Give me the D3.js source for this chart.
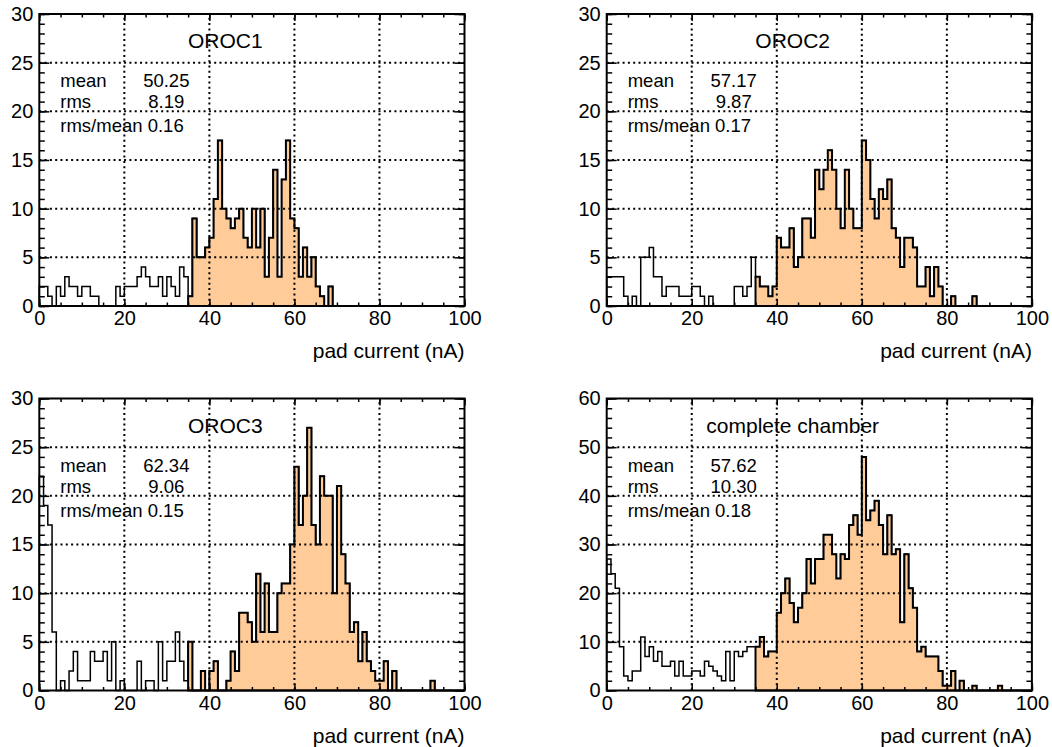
<!DOCTYPE html>
<html>
<head>
<meta charset="utf-8">
<script src="https://cdn.jsdelivr.net/npm/d3@7"></script>
<style>
  html, body { margin: 0; padding: 0; background: #fff; }
  svg { display: block; font-family: "Liberation Sans", Arial, Helvetica, sans-serif; }
</style>
</head>
<body>
<svg id="chart" width="1052" height="747"></svg>
<script>
// Pad-current histograms: 100 bins of 1 nA from 0 to 100 nA
const xDomain = [0, 100];
const binWidth = 1;
const highlightFrom = 35;           // bins at or above this current are filled
const xTicks = [0, 20, 40, 60, 80, 100];

const oroc1 = [
  2, 2, 1, 0, 2, 1, 3, 2, 2, 1,
  2, 2, 1, 1, 0, 0, 0, 0, 2, 1,
  2, 2, 2, 3, 4, 3, 2, 2, 3, 1,
  3, 2, 1, 4, 3, 1, 9, 5, 5, 6,
  7, 11, 17, 10, 9, 8, 9, 10, 7, 6,
  10, 6, 10, 3, 7, 14, 3, 13, 17, 9,
  8, 3, 6, 3, 5, 2, 1, 0, 2, 0,
  0, 0, 0, 0, 0, 0, 0, 0, 0, 0,
  0, 0, 0, 0, 0, 0, 0, 0, 0, 0,
  0, 0, 0, 0, 0, 0, 0, 0, 0, 0
];
const oroc2 = [
  3, 3, 3, 3, 1, 0, 1, 0, 5, 5,
  6, 3, 3, 1, 2, 2, 2, 1, 1, 1,
  2, 2, 1, 0, 1, 0, 0, 0, 0, 0,
  2, 2, 1, 2, 5, 3, 2, 2, 1, 2,
  7, 6, 6, 8, 4, 5, 9, 9, 7, 14,
  12, 14, 16, 14, 10, 8, 14, 10, 8, 8,
  17, 15, 11, 9, 12, 11, 13, 8, 7, 4,
  7, 7, 6, 2, 2, 4, 1, 4, 2, 0,
  0, 1, 0, 0, 0, 0, 1, 0, 0, 0,
  0, 0, 0, 0, 0, 0, 0, 0, 0, 0
];
const oroc3 = [
  22, 19, 17, 6, 0, 1, 0, 2, 4, 1,
  1, 1, 4, 3, 3, 4, 1, 5, 0, 1,
  0, 0, 0, 3, 0, 1, 1, 0, 5, 1,
  3, 3, 6, 3, 1, 5, 0, 0, 2, 0,
  2, 3, 0, 0, 1, 4, 2, 8, 8, 7,
  5, 12, 6, 11, 6, 6, 10, 11, 11, 15,
  23, 17, 20, 27, 17, 15, 22, 20, 20, 10,
  21, 14, 11, 6, 7, 3, 6, 3, 2, 1,
  1, 3, 0, 2, 0, 0, 0, 0, 0, 0,
  0, 0, 1, 0, 0, 0, 0, 0, 0, 0
];
const chamber = [
  27, 24, 21, 9, 3, 2, 4, 4, 11, 7,
  9, 6, 8, 5, 5, 6, 3, 6, 3, 3,
  4, 4, 3, 6, 5, 4, 3, 2, 8, 2,
  8, 7, 8, 9, 9, 9, 11, 7, 8, 8,
  16, 20, 23, 18, 14, 17, 20, 27, 22, 27,
  27, 32, 32, 28, 23, 28, 27, 34, 36, 32,
  48, 35, 37, 39, 34, 28, 36, 28, 29, 14,
  28, 21, 17, 8, 9, 7, 7, 7, 4, 1,
  1, 4, 0, 2, 0, 0, 1, 0, 0, 0,
  0, 0, 1, 0, 0, 0, 0, 0, 0, 0
];

const panelTitles = ["OROC1", "OROC2", "OROC3", "complete chamber"];
const statMean  = ["50.25", "57.17", "62.34", "57.62"];
const statRms   = ["8.19", "9.87", "9.06", "10.30"];
const statRatio = ["0.16", "0.17", "0.15", "0.18"];
const yMax      = [30, 30, 30, 60];
const yMajorStep = [5, 5, 5, 10];
const yMinorStep = [1, 1, 1, 2];
const xLabel = "pad current (nA)";

const histSets = [oroc1, oroc2, oroc3, chamber];

// frame geometry
const frameLeft = [39.3, 606.7];
const frameTop = [14, 398.5];
const frameW = 425.2;
const frameH = 292;
const fillColor = "#ffcc99";

const svg = d3.select("#chart");

function stepPoints(bins, x, y) {
  const pts = [[x(bins[0].lo), y(0)]];
  bins.forEach(d => {
    pts.push([x(d.lo), y(d.c)]);
    pts.push([x(d.hi), y(d.c)]);
  });
  pts.push([x(bins[bins.length - 1].hi), y(0)]);
  return pts;
}

histSets.forEach((counts, k) => {
  const col = k % 2, row = Math.floor(k / 2);
  const x0 = frameLeft[col], y0 = frameTop[row];
  const x = d3.scaleLinear().domain(xDomain).range([x0, x0 + frameW]);
  const y = d3.scaleLinear().domain([0, yMax[k]]).range([y0 + frameH, y0]);
  const g = svg.append("g");

  const bins = counts.map((c, i) => ({
    lo: xDomain[0] + i * binWidth,
    hi: xDomain[0] + (i + 1) * binWidth,
    c
  }));
  const line = d3.line();

  // full histogram outline
  g.append("path")
    .attr("d", line(stepPoints(bins, x, y)))
    .attr("fill", "none")
    .attr("stroke", "#000")
    .attr("stroke-width", 1.5);

  // selected range, filled
  const sel = bins.filter(d => d.lo >= highlightFrom);
  g.append("path")
    .attr("d", line(stepPoints(sel, x, y)) + "Z")
    .attr("fill", fillColor)
    .attr("stroke", "#000")
    .attr("stroke-width", 2);

  // dotted grid
  const grid = g.append("g")
    .attr("stroke", "#000")
    .attr("stroke-width", 2)
    .attr("stroke-dasharray", "2,3.3");
  xTicks.filter(v => v > xDomain[0] && v < xDomain[1]).forEach(v => {
    grid.append("line").attr("x1", x(v)).attr("x2", x(v)).attr("y1", y(0)).attr("y2", y(yMax[k]));
  });
  d3.range(yMajorStep[k], yMax[k], yMajorStep[k]).forEach(v => {
    grid.append("line").attr("x1", x(xDomain[0])).attr("x2", x(xDomain[1])).attr("y1", y(v)).attr("y2", y(v));
  });

  // ticks on all four sides, pointing inward
  const xMinor = d3.range(xDomain[0], xDomain[1] + 0.01, 5);
  const yMinor = d3.range(0, yMax[k] + 0.01, yMinorStep[k]);
  const yMajor = d3.range(0, yMax[k] + 0.01, yMajorStep[k]);

  const styleAxis = sel => {
    sel.select(".domain").remove();
    sel.selectAll("line").attr("stroke", "#000").attr("stroke-width", 1.5);
    sel.selectAll("text").attr("fill", "#000").style("font-size", "20px")
      .style("font-family", "'Liberation Sans', Arial, Helvetica, sans-serif");
  };

  g.append("g").attr("transform", `translate(0,${y(0)})`)
    .call(d3.axisBottom(x).tickValues(xMinor).tickSize(-3.5).tickFormat(""))
    .call(styleAxis);
  g.append("g").attr("transform", `translate(0,${y(0)})`)
    .call(d3.axisBottom(x).tickValues(xTicks).tickSize(-7).tickPadding(5).tickFormat(d3.format("d")))
    .call(styleAxis);
  g.append("g").attr("transform", `translate(0,${y(yMax[k])})`)
    .call(d3.axisTop(x).tickValues(xMinor).tickSize(-3.5).tickFormat(""))
    .call(styleAxis);
  g.append("g").attr("transform", `translate(0,${y(yMax[k])})`)
    .call(d3.axisTop(x).tickValues(xTicks).tickSize(-7).tickFormat(""))
    .call(styleAxis);

  g.append("g").attr("transform", `translate(${x(xDomain[0])},0)`)
    .call(d3.axisLeft(y).tickValues(yMinor).tickSize(-5.5).tickFormat(""))
    .call(styleAxis);
  g.append("g").attr("transform", `translate(${x(xDomain[0])},0)`)
    .call(d3.axisLeft(y).tickValues(yMajor).tickSize(-10).tickPadding(6).tickFormat(d3.format("d")))
    .call(styleAxis);
  g.append("g").attr("transform", `translate(${x(xDomain[1])},0)`)
    .call(d3.axisRight(y).tickValues(yMinor).tickSize(-5.5).tickFormat(""))
    .call(styleAxis);
  g.append("g").attr("transform", `translate(${x(xDomain[1])},0)`)
    .call(d3.axisRight(y).tickValues(yMajor).tickSize(-10).tickFormat(""))
    .call(styleAxis);

  // frame
  g.append("rect")
    .attr("x", x(xDomain[0])).attr("y", y(yMax[k]))
    .attr("width", x(xDomain[1]) - x(xDomain[0]))
    .attr("height", y(0) - y(yMax[k]))
    .attr("fill", "none").attr("stroke", "#000").attr("stroke-width", 2);

  // axis title
  g.append("text")
    .attr("x", x(xDomain[1])).attr("y", y(0) + 52)
    .attr("text-anchor", "end")
    .style("font-size", "21px")
    .text(xLabel);

  // panel title
  g.append("text")
    .attr("x", x0 + 186).attr("y", y0 + 34)
    .attr("text-anchor", "middle")
    .style("font-size", "21px")
    .text(panelTitles[k]);

  // statistics block
  const st = g.append("g").style("font-size", "18.5px");
  st.append("text").attr("x", x0 + 21).attr("y", y0 + 73).text("mean");
  st.append("text").attr("x", x0 + 127).attr("y", y0 + 73).attr("text-anchor", "middle").text(statMean[k]);
  st.append("text").attr("x", x0 + 21).attr("y", y0 + 94).text("rms");
  st.append("text").attr("x", x0 + 127).attr("y", y0 + 94).attr("text-anchor", "middle").text(statRms[k]);
  st.append("text").attr("x", x0 + 21).attr("y", y0 + 118).text("rms/mean " + statRatio[k]);
});
</script>
</body>
</html>
